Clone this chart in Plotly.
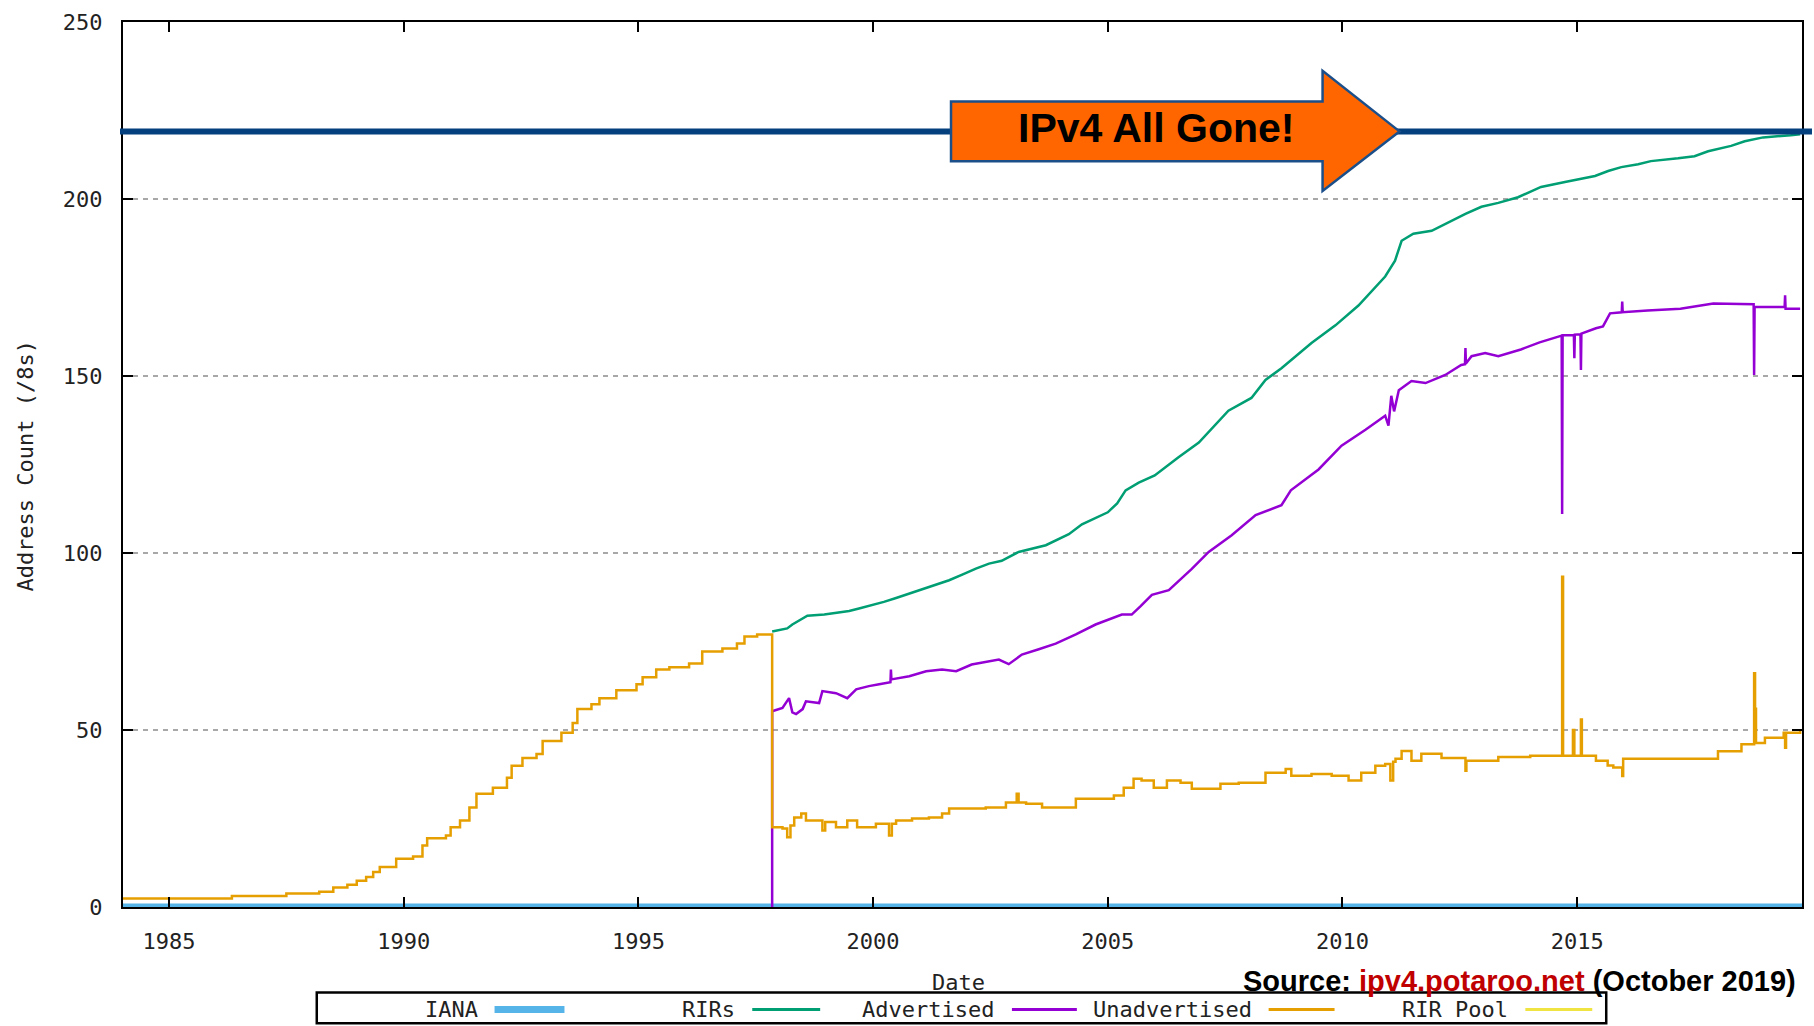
import plotly.graph_objects as go

# ---------------- data (decimal years, /8 address counts) ----------------
IANA_YEARS = [1984.0, 2019.8]
IANA_VALUES = [0, 0]

RIR_POOL_YEARS = [1984.0, 2019.8]
RIR_POOL_VALUES = [0, 0]

RIRS_YEARS = [1997.85, 1998.17, 1998.28, 1998.47, 1998.6, 1998.96, 1999.23, 1999.49, 1999.7,
              1999.92, 2000.23, 2000.49, 2000.77, 2001.04, 2001.34, 2001.62, 2001.9, 2002.19,
              2002.47, 2002.74, 2003.1, 2003.68, 2004.17, 2004.45, 2005.0, 2005.2, 2005.38,
              2005.66, 2006.0, 2006.5, 2006.94, 2007.25, 2007.57, 2008.06, 2008.36, 2008.7,
              2009.0, 2009.34, 2009.85, 2010.34, 2010.91, 2011.12, 2011.26, 2011.51, 2011.9,
              2012.26, 2012.62, 2012.96, 2013.32, 2013.74, 2014.0, 2014.23, 2014.74, 2015.38,
              2015.66, 2015.94, 2016.3, 2016.57, 2017.15, 2017.5, 2017.79, 2018.28, 2018.57,
              2018.96, 2019.55, 2019.75]
RIRS_VALUES = [77.8, 78.7, 79.8, 81.2, 82.3, 82.6, 83.2, 83.6, 84.3,
               85.0, 86.2, 87.3, 88.5, 89.8, 90.9, 92.3, 93.9, 95.6,
               97.0, 97.8, 100.3, 102.2, 105.3, 108.1, 111.5, 114.0, 117.7,
               119.9, 121.9, 127.0, 131.2, 135.5, 140.2, 143.8, 148.9, 152.2,
               155.5, 159.3, 164.3, 169.9, 178.1, 182.6, 188.2, 190.2, 191.0,
               193.5, 195.8, 197.8, 198.9, 200.5, 202.0, 203.4, 204.8, 206.5,
               207.9, 209.0, 209.8, 210.7, 211.5, 212.1, 213.5, 215.0, 216.3,
               217.4, 218.0, 218.3]

ADV_YEARS = [1997.85, 1997.85, 1998.07, 1998.21, 1998.28, 1998.36, 1998.5, 1998.57, 1998.85,
             1998.92, 1999.21, 1999.45, 1999.64, 1999.91, 2000.13, 2000.37, 2000.38, 2000.39,
             2000.77, 2001.13, 2001.47, 2001.77, 2002.1, 2002.47, 2002.68, 2002.89, 2003.17,
             2003.53, 2003.89, 2004.32, 2004.74, 2005.3, 2005.51, 2005.7, 2005.94, 2006.3,
             2006.66, 2006.79, 2007.15, 2007.64, 2008.15, 2008.7, 2008.9, 2009.49, 2009.98,
             2010.49, 2010.91, 2010.98, 2011.04, 2011.1, 2011.2, 2011.3, 2011.47, 2011.77,
             2012.19, 2012.53, 2012.61, 2012.62, 2012.63, 2012.75, 2013.04, 2013.32, 2013.8,
             2014.2, 2014.6, 2014.67, 2014.68, 2014.69, 2014.93, 2014.94, 2014.95, 2015.07,
             2015.08, 2015.09, 2015.4, 2015.55, 2015.7, 2015.95, 2015.96, 2015.97, 2016.5,
             2017.2, 2017.9, 2018.5, 2018.76, 2018.77, 2018.78, 2019.2, 2019.42, 2019.43,
             2019.44, 2019.75]
ADV_VALUES = [0.0, 55.3, 56.2, 59.0, 55.0, 54.5, 55.9, 58.1, 57.6,
              61.0, 60.4, 59.0, 61.5, 62.4, 62.9, 63.5, 67.1, 64.3,
              65.2, 66.6, 67.1, 66.6, 68.5, 69.4, 69.9, 68.6, 71.3,
              72.8, 74.4, 77.0, 79.8, 82.6, 82.6, 85.0, 88.2, 89.5,
              93.8, 95.5, 100.3, 105.0, 110.7, 113.5, 117.7, 123.6, 130.3,
              134.8, 138.8, 136.0, 144.4, 140.0, 146.0, 147.0, 148.6, 148.0,
              150.3, 153.1, 153.3, 157.9, 153.5, 155.6, 156.5, 155.6, 157.5,
              159.5, 161.3, 161.4, 111.0, 161.5, 161.5, 155.0, 161.7, 161.8,
              151.7, 162.0, 163.5, 164.0, 167.7, 168.0, 171.0, 168.0, 168.5,
              169.0, 170.5, 170.5, 170.3, 150.3, 169.5, 169.5, 169.5, 172.8,
              169.0, 169.0]

UNADV_YEARS = [1984.02, 1986.34, 1987.5, 1988.2, 1988.5, 1988.8, 1989.0, 1989.2, 1989.35,
               1989.49, 1989.84, 1990.2, 1990.4, 1990.5, 1990.9, 1991.0, 1991.2, 1991.4,
               1991.55, 1991.9, 1992.2, 1992.3, 1992.53, 1992.83, 1992.96, 1993.36, 1993.6,
               1993.7, 1994.0, 1994.17, 1994.53, 1994.96, 1995.09, 1995.38, 1995.66, 1996.08,
               1996.36, 1996.79, 1997.1, 1997.26, 1997.53, 1997.85,
               1998.07, 1998.17, 1998.24, 1998.32, 1998.47, 1998.57, 1998.92, 1998.98, 1999.21,
               1999.45, 1999.66, 2000.06, 2000.34, 2000.4, 2000.49, 2000.83, 2001.19, 2001.47,
               2001.62, 2002.04, 2002.4, 2002.83, 2003.06, 2003.1, 2003.26, 2003.6, 2004.17,
               2004.32, 2004.81, 2005.13, 2005.34, 2005.55, 2005.72, 2005.98, 2006.26, 2006.55,
               2006.79, 2007.11, 2007.4, 2007.79, 2008.15, 2008.36, 2008.79, 2008.91, 2009.34,
               2009.77, 2010.13, 2010.4, 2010.7, 2010.91, 2011.02, 2011.08, 2011.13, 2011.26,
               2011.47, 2011.68, 2012.11, 2012.53, 2012.62, 2012.64, 2013.11, 2013.32, 2014.0,
               2014.68, 2014.7, 2014.91, 2014.94, 2015.08, 2015.1, 2015.4, 2015.65, 2015.77,
               2015.96, 2015.98, 2017.8, 2018.0, 2018.5, 2018.77, 2018.79, 2018.81, 2019.0,
               2019.4, 2019.43, 2019.45, 2019.75]
UNADV_VALUES = [2.4, 3.1, 3.8, 4.3, 5.5, 6.3, 7.4, 8.5, 9.9,
                11.3, 13.6, 14.3, 17.4, 19.4, 20.2, 22.5, 24.4, 28.1,
                32.0, 33.7, 36.5, 39.9, 42.1, 43.2, 46.9, 49.2, 52.0,
                55.9, 57.3, 59.0, 61.2, 62.9, 64.9, 67.1, 67.7, 68.8,
                72.2, 73.0, 74.4, 76.4, 77.0, 22.5,
                22.2, 19.7, 23.0, 25.3, 26.4, 24.4, 21.6, 24.0, 22.5,
                24.4, 22.5, 23.5, 20.2, 23.5, 24.4, 25.0, 25.3, 26.4,
                27.8, 27.8, 28.1, 29.5, 32.0, 29.5, 29.2, 28.1, 28.1,
                30.6, 30.6, 31.5, 33.7, 36.2, 35.7, 33.7, 35.7, 35.1,
                33.4, 33.4, 34.8, 35.1, 35.1, 37.9, 39.0, 37.1, 37.6,
                37.1, 35.7, 37.9, 39.9, 40.4, 35.7, 41.0, 41.9, 44.1,
                41.3, 43.3, 42.1, 42.1, 38.5, 41.3, 41.3, 42.4, 42.7,
                93.3, 42.7, 50.0, 42.7, 53.0, 42.7, 41.3, 40.0, 39.4,
                37.0, 41.9, 41.9, 44.0, 46.0, 66.0, 56.0, 46.3, 47.8,
                49.2, 45.0, 49.2, 49.7]

ALL_GONE_LEVEL = 219.1
X_TICKS = [1985, 1990, 1995, 2000, 2005, 2010, 2015]
Y_TICKS = [0, 50, 100, 150, 200, 250]
X_RANGE = [1984.02, 2019.79]
Y_RANGE = [0, 250]

SERIES = [
    ("IANA", "#56B4E9"),
    ("RIRs", "#009E73"),
    ("Advertised", "#9400D3"),
    ("Unadvertised", "#E69F00"),
    ("RIR Pool", "#F0E442"),
]
COL = dict(SERIES)

# ---------------- layout geometry ----------------
W, H = 1814, 1026
ML, MR, MT, MB = 123, 10, 17, 119
PW = W - ML - MR
PH = H - MT - MB


def px(x):
    return (x - ML) / PW


def py(y):
    return (H - MB - y) / PH


MONO = "DejaVu Sans Mono"
BOLD = "Liberation Sans, Arial, sans-serif"

fig = go.Figure()
lw = 2.5
fig.add_trace(go.Scatter(x=RIR_POOL_YEARS, y=RIR_POOL_VALUES, mode="lines", name="RIR Pool",
                         line=dict(color=COL["RIR Pool"], width=lw, shape="hv")))
fig.add_trace(go.Scatter(x=IANA_YEARS, y=IANA_VALUES, mode="lines", name="IANA",
                         line=dict(color=COL["IANA"], width=7, shape="hv")))
fig.add_trace(go.Scatter(x=RIRS_YEARS, y=RIRS_VALUES, mode="lines", name="RIRs",
                         line=dict(color=COL["RIRs"], width=lw, shape="linear")))
fig.add_trace(go.Scatter(x=ADV_YEARS, y=ADV_VALUES, mode="lines", name="Advertised",
                         line=dict(color=COL["Advertised"], width=lw, shape="linear")))
fig.add_trace(go.Scatter(x=UNADV_YEARS, y=UNADV_VALUES, mode="lines", name="Unadvertised",
                         line=dict(color=COL["Unadvertised"], width=lw, shape="hv")))

axis_common = dict(showline=True, linecolor="black", linewidth=2, mirror="ticks",
                   ticks="inside", ticklen=10, tickwidth=2, tickcolor="black",
                   tickfont=dict(family=MONO, size=22, color="#222222"),
                   zeroline=False, fixedrange=True)

fig.update_xaxes(range=X_RANGE, tickvals=X_TICKS, ticktext=[str(v) for v in X_TICKS],
                 showgrid=False, ticklabelstandoff=14, **axis_common)
fig.update_yaxes(range=Y_RANGE, tickvals=Y_TICKS, ticktext=[str(v) for v in Y_TICKS],
                 showgrid=True, gridcolor="#a8a8a8", gridwidth=1.5, griddash="5px,5px",
                 ticklabelstandoff=14, **axis_common)

shapes = []
annotations = []

# "all gone" level line and arrow callout
shapes.append(dict(type="line", xref="paper", yref="y", x0=px(120), x1=px(1814),
                   y0=ALL_GONE_LEVEL, y1=ALL_GONE_LEVEL,
                   line=dict(color="#043F7E", width=6), layer="above"))
ax0, ax1, ax2 = px(952), px(1324), px(1401)
ay_top, ay_bot, ah_top, ah_bot, ay_tip = py(97), py(157), py(66), py(187), py(127)
path = (f"M {ax0},{ay_top} L {ax1},{ay_top} L {ax1},{ah_top} L {ax2},{ay_tip} "
        f"L {ax1},{ah_bot} L {ax1},{ay_bot} L {ax0},{ay_bot} Z")
shapes.append(dict(type="path", xref="paper", yref="paper", path=path,
                   fillcolor="#FF6600", line=dict(color="#1B4F8A", width=2.5), layer="above"))
annotations.append(dict(xref="paper", yref="paper", x=px(1157), y=py(124),
                        text="<b>IPv4 All Gone!</b>", showarrow=False,
                        font=dict(family=BOLD, size=41, color="black"),
                        xanchor="center", yanchor="middle"))

# axis titles
annotations.append(dict(xref="paper", yref="paper", x=px(25), y=py(463),
                        text="Address Count (/8s)", textangle=-90, showarrow=False,
                        font=dict(family=MONO, size=22, color="#222222"),
                        xanchor="center", yanchor="middle"))
annotations.append(dict(xref="paper", yref="paper", x=px(959), y=py(983),
                        text="Date", showarrow=False,
                        font=dict(family=MONO, size=22, color="#222222"),
                        xanchor="center", yanchor="middle"))

# source note
annotations.append(dict(xref="paper", yref="paper", x=px(1242), y=py(981),
                        text="<b>Source: <span style='color:#C00000'>ipv4.potaroo.net</span> (October 2019)</b>",
                        showarrow=False, font=dict(family=BOLD, size=29, color="black"),
                        xanchor="left", yanchor="middle"))

# gnuplot-style legend box: label then line sample
shapes.append(dict(type="rect", xref="paper", yref="paper", x0=px(317), x1=px(1608),
                   y0=py(993), y1=py(1024), line=dict(color="black", width=2.5),
                   fillcolor="white", layer="above"))
LEG_TEXT_RIGHT = [480, 738, 997, 1255, 1512]
LEG_SAMPLE = [(495, 565), (753, 821), (1013, 1078), (1270, 1336), (1527, 1594)]
leg_y = py(1010)
for (name, color), tr, (s0, s1) in zip(SERIES, LEG_TEXT_RIGHT, LEG_SAMPLE):
    annotations.append(dict(xref="paper", yref="paper", x=px(tr), y=leg_y, text=name,
                            showarrow=False, font=dict(family=MONO, size=22, color="#222222"),
                            xanchor="right", yanchor="middle"))
    shapes.append(dict(type="line", xref="paper", yref="paper", x0=px(s0), x1=px(s1),
                       y0=leg_y, y1=leg_y, layer="above",
                       line=dict(color=color, width=7 if name == "IANA" else 3)))

fig.update_layout(width=W, height=H, autosize=False,
                  margin=dict(l=ML, r=MR, t=MT, b=MB),
                  paper_bgcolor="white", plot_bgcolor="white",
                  showlegend=False, shapes=shapes, annotations=annotations)

fig.write_html("out.html", config={"displayModeBar": False},
               post_script="document.body.style.margin='0';document.body.style.overflow='hidden';")
